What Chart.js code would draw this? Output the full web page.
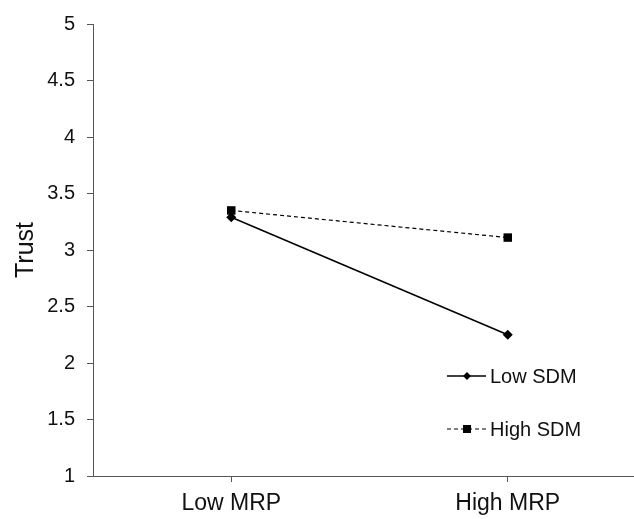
<!DOCTYPE html>
<html>
<head>
<meta charset="utf-8">
<script src="https://cdn.jsdelivr.net/npm/chart.js@4/dist/chart.umd.min.js"></script>
<style>
    html, body { margin: 0; padding: 0; background: #fff; overflow: hidden; }
    #wrap { width: 652px; height: 519px; }
</style>
</head>
<body>
<div id="wrap"><canvas id="trustChart" width="652" height="519"></canvas></div>
<script>
const categories = ['Low MRP', 'High MRP'];
const lowSDM = [3.29, 2.25];
const highSDM = [3.35, 3.11];
const seriesNames = ['Low SDM', 'High SDM'];
const yMin = 1;
const yMax = 5;
const yStep = 0.5;

const axisColor = '#555';
const fontFamily = '"Liberation Sans", Arial, sans-serif';

// draws the little line + marker legend inside the plot
const insideLegend = {
    id: 'insideLegend',
    afterDraw(chart) {
        const ctx = chart.ctx;
        const rows = [
            { y: 376, ds: chart.data.datasets[0] },
            { y: 429, ds: chart.data.datasets[1] },
        ];
        ctx.save();
        rows.forEach((r) => {
            ctx.strokeStyle = '#000';
            ctx.lineWidth = r.ds.borderWidth;
            ctx.setLineDash(r.ds.borderDash || []);
            ctx.beginPath();
            ctx.moveTo(447, r.y);
            ctx.lineTo(486, r.y);
            ctx.stroke();
            ctx.setLineDash([]);
            ctx.fillStyle = '#000';
            const x = 467;
            if (r.ds.pointStyle === 'rectRot') {
                ctx.beginPath();
                ctx.moveTo(x, r.y - 4);
                ctx.lineTo(x + 4, r.y);
                ctx.lineTo(x, r.y + 4);
                ctx.lineTo(x - 4, r.y);
                ctx.closePath();
                ctx.fill();
            } else {
                ctx.fillRect(x - 4, r.y - 4, 8, 8);
            }
            ctx.font = '20px ' + fontFamily;
            ctx.textBaseline = 'middle';
            ctx.textAlign = 'left';
            ctx.fillStyle = '#111';
            ctx.fillText(r.ds.label, 490, r.y + 1);
        });
        ctx.restore();
    },
};

const ctx = document.getElementById('trustChart').getContext('2d');
new Chart(ctx, {
    type: 'line',
    data: {
        labels: categories,
        datasets: [
            {
                label: seriesNames[0],
                data: lowSDM,
                borderColor: '#000',
                backgroundColor: '#000',
                borderWidth: 1.5,
                pointStyle: 'rectRot',
                pointRadius: 5,
                pointBackgroundColor: '#000',
                pointBorderWidth: 0,
                tension: 0,
            },
            {
                label: seriesNames[1],
                data: highSDM,
                borderColor: '#000',
                backgroundColor: '#000',
                borderWidth: 1.2,
                borderDash: [4, 3],
                pointStyle: 'rect',
                pointRadius: 6,
                pointBackgroundColor: '#000',
                pointBorderWidth: 0,
                tension: 0,
            },
        ],
    },
    options: {
        responsive: false,
        animation: false,
        layout: { padding: { top: 21, right: 2, left: 0, bottom: 0 } },
        plugins: {
            legend: { display: false },
            tooltip: { enabled: false },
        },
        scales: {
            x: {
                offset: true,
                grid: {
                    display: true,
                    drawOnChartArea: false,
                    drawTicks: true,
                    tickLength: 6,
                    color: axisColor,
                },
                border: { color: axisColor, width: 1 },
                ticks: {
                    color: '#111',
                    padding: 8,
                    maxRotation: 0,
                    font: { family: fontFamily, size: 23 },
                },
                afterFit: (scale) => {
                    scale.height = 43;
                },
            },
            y: {
                min: yMin,
                max: yMax,
                grid: {
                    display: true,
                    drawOnChartArea: false,
                    drawTicks: true,
                    tickLength: 6,
                    color: axisColor,
                },
                border: { color: axisColor, width: 1 },
                ticks: {
                    stepSize: yStep,
                    color: '#111',
                    padding: 12,
                    font: { family: fontFamily, size: 20 },
                    callback: (v) => String(v),
                },
                title: {
                    display: true,
                    text: 'Trust',
                    color: '#111',
                    font: { family: fontFamily, size: 25 },
                    padding: { top: 11, bottom: 0 },
                },
                afterFit: (scale) => {
                    scale.width = 93;
                },
            },
        },
    },
    plugins: [insideLegend],
});
</script>
</body>
</html>
